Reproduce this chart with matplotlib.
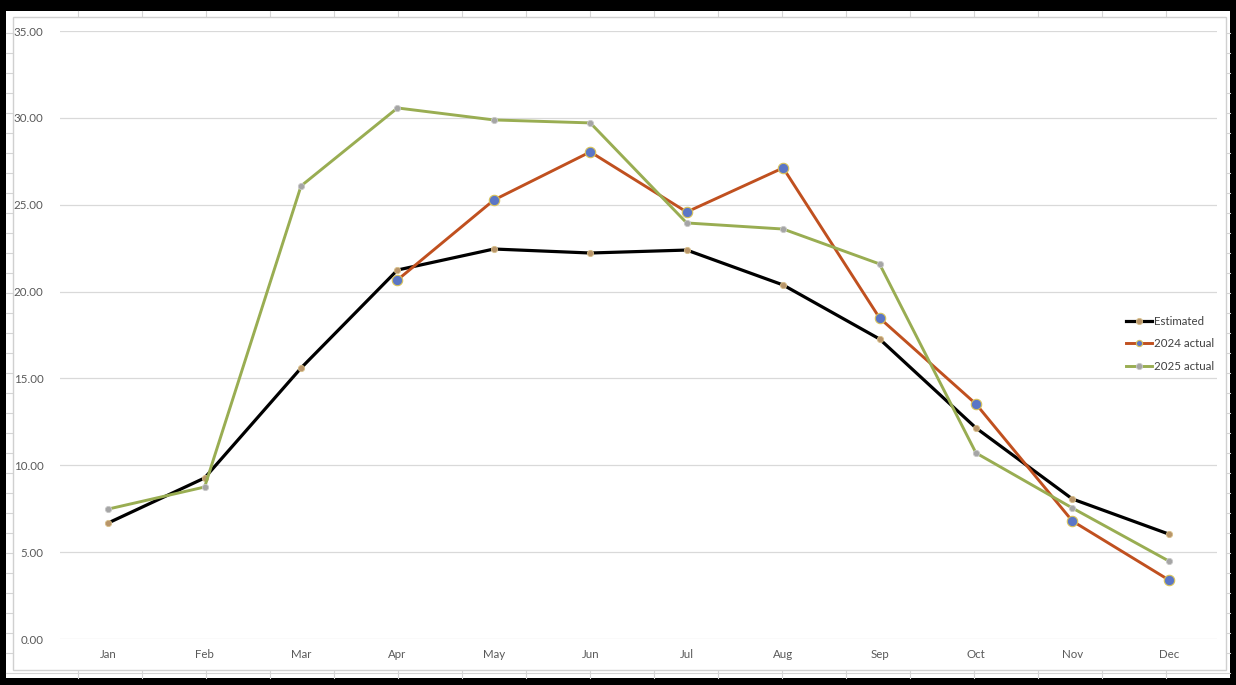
import numpy as np
import matplotlib.pyplot as plt
from matplotlib.patches import Rectangle

months = ["Jan", "Feb", "Mar", "Apr", "May", "Jun", "Jul", "Aug", "Sep", "Oct", "Nov", "Dec"]
estimated = [6.68, 9.27, 15.60, 21.24, 22.45, 22.22, 22.39, 20.38, 17.27, 12.15, 8.06, 6.04]
actual_2024 = [np.nan, np.nan, np.nan, 20.67, 25.27, 28.04, 24.58, 27.12, 18.48, 13.53, 6.79, 3.40]
actual_2025 = [7.48, 8.75, 26.08, 30.57, 29.88, 29.71, 23.95, 23.60, 21.59, 10.71, 7.54, 4.49]
yticks = [0, 5, 10, 15, 20, 25, 30, 35]

W, H = 1236, 685
fig = plt.figure(figsize=(W / 100, H / 100), dpi=100, facecolor="black")

# spreadsheet behind the chart, in pixel coords
sheet = fig.add_axes([0, 0, 1, 1])
sheet.set_xlim(0, W)
sheet.set_ylim(H, 0)
sheet.axis("off")
sheet.add_patch(Rectangle((6, 11), 1224, 667, facecolor="white", edgecolor="none", zorder=0))
for x in np.arange(78, 1230, 64):
    sheet.plot([x, x], [11, 678], color="#d4d4d4", lw=0.8, zorder=1)
for y in np.arange(33, 678, 20):
    sheet.plot([6, 1230], [y, y], color="#d4d4d4", lw=0.8, zorder=1)
sheet.add_patch(Rectangle((13, 17), 1213, 653, facecolor="white", edgecolor="#d0d0d0",
                          lw=1, zorder=5))

ax = fig.add_axes([60 / W, 1 - 639 / H, 1157 / W, 608 / H])
ax.set_facecolor("none")
x = np.arange(len(months))

ax.plot(x, estimated, color="black", lw=2.3, marker="o", ms=4.5,
        mfc="#b8956a", mec="#d8c08a", mew=0.6, label="Estimated", zorder=3)
ax.plot(x, actual_2024, color="#c0501f", lw=2.1, marker="o", ms=7.5,
        mfc="#5b76c6", mec="#d8c35a", mew=0.8, label="2024 actual", zorder=4)
ax.plot(x, actual_2025, color="#99ad52", lw=2.1, marker="o", ms=4.5,
        mfc="#a5a5a5", mec="#c8c8c8", mew=0.6, label="2025 actual", zorder=5)

ax.set_xlim(-0.5, len(months) - 0.5)
ax.set_ylim(0, 35)
ax.set_yticks(yticks)
ax.set_yticklabels([f"{v:.2f}" for v in yticks])
ax.set_xticks(x)
ax.set_xticklabels(months)
ax.grid(axis="y", color="#d9d9d9", lw=0.9)
ax.set_axisbelow(True)
for s in ax.spines.values():
    s.set_visible(False)
ax.tick_params(length=0, labelsize=8.3, labelcolor="#595959", labelfontfamily="Lato")
ax.tick_params(axis="y", pad=12)
ax.tick_params(axis="x", pad=7.5)

leg = ax.legend(loc="center left", bbox_to_anchor=(1056 / 1157, 0.5 - (342 - 335) / 608 - 0.003),
                frameon=False, handlelength=2.2, handletextpad=0.2,
                labelspacing=1.0, prop={"family": "Lato", "size": 8.3})
for t in leg.get_texts():
    t.set_color("#404040")
for h in leg.legend_handles:
    h.set_markersize(4.5)

fig.savefig("out.png", dpi=100, facecolor="black")
